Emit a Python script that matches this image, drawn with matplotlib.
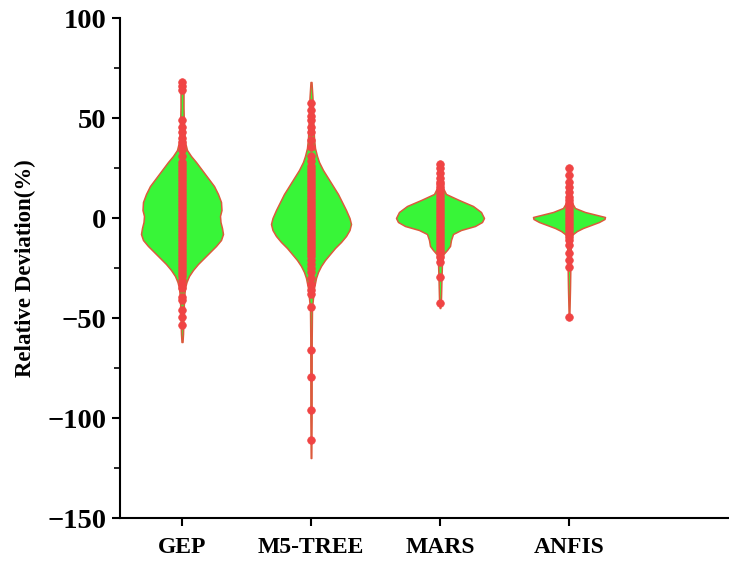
#!/usr/bin/env python
# -*- coding: utf-8 -*-
"""Violin plot of relative deviation for four models"""

import numpy as np
import matplotlib as mpl
mpl.use("Agg")
import matplotlib.pyplot as plt
from matplotlib.ticker import MultipleLocator

# model names
models = ['GEP', 'M5-TREE', 'MARS', 'ANFIS']

# individual relative deviations (%)
gep_pts = [68, 66, 64, 49, 45.5, 43, 40, 38, 36, 34, 31,
           28, 26.5, 25, 23.5, 22, 20.5, 19, 17.5, 16, 14.5, 13, 11.5, 10, 8.5,
           7, 5.5, 4, 2.5, 1, -0.5, -2, -3.5, -5, -6.5, -8, -9.5, -11, -12.5,
           -14, -15.5, -17, -18.5, -20, -21.5, -23, -24.5, -26, -27.5, -29,
           -31, -33, -35, -39.5, -41, -46, -49.5, -53.5]
m5_pts = [57.5, 54, 51, 49, 45.5, 43, 39, 35.5, 31, 28.5,
          26, 24.5, 23, 21.5, 20, 18.5, 17, 15.5, 14, 12.5, 11, 9.5, 8, 6.5,
          5, 3.5, 2, 0.5, -1, -2.5, -4, -5.5, -7, -8.5, -10, -11.5, -13,
          -14.5, -16, -17.5, -19,
          -21, -23, -25, -27, -30, -33, -36, -38, -44.5, -66, -79.5, -96, -111]
mars_pts = [27, 25, 22.5, 20, 18,
            17, 15.5, 14, 12.5, 11, 9.5, 8, 6.5, 5, 3.5, 2, 0.5, -1, -2.5,
            -4, -5.5, -7, -8.5, -10, -11.5, -13, -14.5, -16, -17,
            -19.5, -22, -29.5, -42.5]
anfis_pts = [25, 21.5, 18, 15.5, 13, 10.5,
             9, 7.5, 6, 4.5, 3, 1.5, 0, -1.5, -3, -4.5, -6, -7.5, -9.5,
             -11, -13.5, -17.5, -21, -24.5, -49.5]

# violin outlines: deviation level and half width (pixels)
gep_lvl = [69, 65, 55, 45, 38, 34, 31, 28, 24, 20, 16, 12, 8, 4, 1, -2, -5,
           -8, -11, -14, -17, -20, -23, -26, -29, -32, -35, -40, -50, -58, -62]
gep_hw = [0.5, 1.5, 1.5, 2, 3, 5, 9, 14, 20, 26, 32, 36, 39, 39.5, 38, 38.5,
          40, 41, 39, 34, 28, 22, 16, 11, 7, 4.5, 3, 2, 1.5, 1, 0.5]
m5_lvl = [68, 60, 50, 40, 35, 31, 28, 24, 20, 16, 12, 8, 4, 0, -3, -6, -9,
          -12, -15, -18, -21, -24, -27, -30, -35, -40, -45, -60, -100, -120]
m5_hw = [0.5, 1.5, 2, 3, 4, 6, 8, 12, 17, 22, 27, 31, 35, 38.5, 40, 38.5, 35,
         30, 24, 19, 14, 10, 7, 5, 3, 2, 1, 0.7, 0.6, 0.3]
mars_lvl = [28, 20, 15, 12, 9, 6, 3, 0, -2, -4, -6, -8, -11, -14, -16, -18,
            -22, -30, -40, -45]
mars_hw = [0.5, 2, 3, 6, 19, 33, 41, 44, 42, 35, 21, 13, 11, 10, 7, 3.5, 2,
           1.5, 1, 0.3]
anfis_lvl = [26, 15, 8, 5, 3, 1.5, 0.5, -0.5, -2, -3.5, -5, -6.5, -8, -10,
             -20, -35, -50]
anfis_hw = [0.5, 1.5, 2.5, 6, 16, 28, 36, 35.5, 30, 22, 14, 8, 4, 2, 1.5, 1,
            0.3]

points = [gep_pts, m5_pts, mars_pts, anfis_pts]
levels = [gep_lvl, m5_lvl, mars_lvl, anfis_lvl]
halfw = [gep_hw, m5_hw, mars_hw, anfis_hw]

GREEN = '#38f538'
RED = '#f04444'
EDGE = '#dc5a3c'
PX = 129.  # pixels per category

plt.rcParams['font.family'] = ['Liberation Serif', 'DejaVu Serif']
plt.rcParams['font.weight'] = 'bold'

fig = plt.figure(figsize=(7.29, 5.61), dpi=100)
ax = fig.add_axes([120 / 729., 43 / 561., 609 / 729., 500 / 561.])

for i in range(len(models)):
    pos = i + 1
    lv = np.array(levels[i], dtype=float)
    hw = np.array(halfw[i], dtype=float) / PX
    ax.fill_betweenx(lv, pos - hw, pos + hw, facecolor=GREEN,
                     edgecolor=EDGE, linewidth=1.1, zorder=2)
    ax.plot([pos] * len(points[i]), points[i], 'o', color=RED, ms=5.5,
            mec=RED, mew=0.5, zorder=3)

ax.set_xlim(1 - 62 / PX, 1 + (729 - 182) / PX)
ax.set_ylim(-150, 100)
ax.set_xticks(range(1, len(models) + 1))
ax.set_xticklabels(models, fontsize=17, fontweight='bold')
ax.yaxis.set_major_locator(MultipleLocator(50))
ax.yaxis.set_minor_locator(MultipleLocator(25))
for lab in ax.get_yticklabels():
    lab.set_fontsize(20.5)
    lab.set_fontweight('bold')

ax.spines['top'].set_visible(False)
ax.spines['right'].set_visible(False)
for s in ['left', 'bottom']:
    ax.spines[s].set_linewidth(1.5)
ax.tick_params(which='major', direction='out', length=6, width=1.5, pad=4)
ax.tick_params(which='minor', direction='out', length=4, width=1.2)
ax.tick_params(axis='x', pad=8)

ax.set_ylabel('Relative Deviation(%)', fontsize=16.5, fontweight='bold',
              labelpad=8)

plt.savefig('out.png', dpi=100)
